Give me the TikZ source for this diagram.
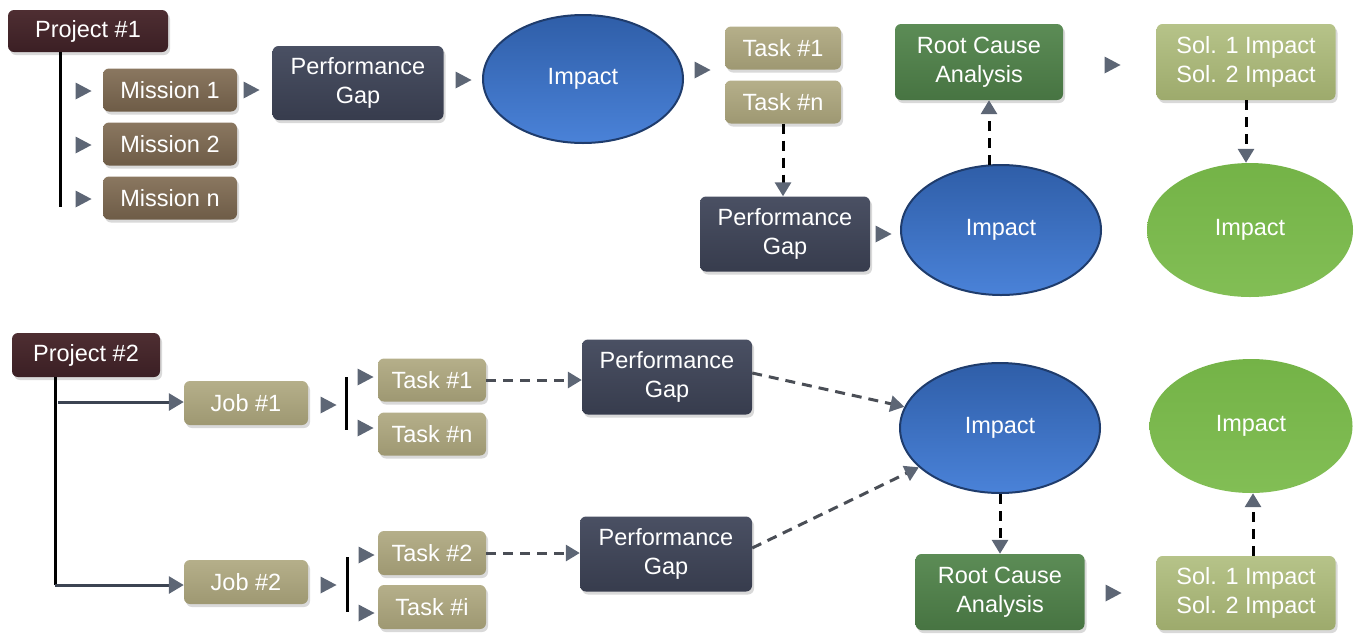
\documentclass[tikz,border=0pt]{standalone}
\usepackage{fontspec}
\setmainfont{Liberation Sans}
\usetikzlibrary{shapes.geometric,arrows.meta,shadows,calc}
\definecolor{projc}{HTML}{3B1F24}
\definecolor{projt}{HTML}{4E2E32}
\definecolor{missc}{HTML}{6E5C47}
\definecolor{misst}{HTML}{8A7760}
\definecolor{pgc}{HTML}{373C4D}
\definecolor{pgt}{HTML}{4A5063}
\definecolor{taskc}{HTML}{9E9872}
\definecolor{taskt}{HTML}{B5AF8A}
\definecolor{rcac}{HTML}{477442}
\definecolor{rcat}{HTML}{5C8C56}
\definecolor{solc}{HTML}{9DAA6C}
\definecolor{solt}{HTML}{B6C389}
\definecolor{bluet}{HTML}{2F5EA8}
\definecolor{blueb}{HTML}{4A82D8}
\definecolor{blued}{HTML}{1F3C6C}
\definecolor{greent}{HTML}{74B347}
\definecolor{greenb}{HTML}{82BE55}
\definecolor{tricol}{HTML}{5D6675}
\definecolor{slate}{HTML}{3C4452}
\definecolor{dgray}{HTML}{4A4E56}
\newcommand\trir[2]{\fill[tricol] ({#1-7.5},{#2-8.5}) -- ({#1+8.5},{#2}) -- ({#1-7.5},{#2+8.5}) -- cycle;}
\tikzset{
  lbl/.style={text=white, font=\fontsize{23.5}{29}\selectfont, align=center, inner sep=0pt},
  box/.style={lbl, rounded corners=6pt,
    drop shadow={opacity=0.3, shadow xshift=2pt, shadow yshift=-3pt}},
  projbox/.style={box, top color=projt, bottom color=projc},
  missbox/.style={box, top color=misst, bottom color=missc, minimum width=134pt, minimum height=43pt},
  pgbox/.style={box, top color=pgt, bottom color=pgc, minimum width=171pt, minimum height=74pt},
  taskbox/.style={box, top color=taskt, bottom color=taskc},
  rcabox/.style={box, top color=rcat, bottom color=rcac, minimum width=169pt, minimum height=76pt},
  solbox/.style={box, top color=solt, bottom color=solc, minimum width=179pt, minimum height=75pt},
  blueell/.style={lbl, ellipse, top color=bluet, bottom color=blueb, draw=blued, line width=2pt,
    minimum width=200pt, minimum height=130pt},
  greenell/.style={lbl, ellipse, top color=greent, bottom color=greenb,
    minimum width=205pt, minimum height=134pt},
  tline/.style={line width=3pt, black},
  bline/.style={line width=3pt, slate, -{Triangle[length=15pt,width=17pt,color=tricol]}},
  dconn/.style={line width=3pt, black, dash pattern=on 10pt off 7pt,
    -{Triangle[length=14pt,width=16pt,color=tricol]}},
  dgconn/.style={line width=3pt, dgray, dash pattern=on 10pt off 7pt,
    -{Triangle[length=14pt,width=16pt,color=tricol]}}
}
\begin{document}
\begin{tikzpicture}[x=1pt,y=-1pt]
\useasboundingbox (0,0) rectangle (1354,633);
% ---------- Project 1 ----------
\node[projbox, minimum width=160pt, minimum height=42pt] (p1) at (88,31) {Project \#1};
\node[missbox] (m1) at (170,90) {Mission 1};
\node[missbox] (m2) at (170,144) {Mission 2};
\node[missbox] (m3) at (170,198) {Mission n};
\coordinate (p1b) at (60,207);
\draw[tline] (p1.south -| p1b) -- (p1b);
\trir{83}{91}\trir{83}{145}\trir{83}{199}
\node[pgbox] (pg1) at (358,83) {Performance\\Gap};
\trir{251}{90}
\node[blueell, minimum height=128pt] (imp1) at (583,79) {Impact};
\trir{463}{80}
\node[taskbox, minimum width=116pt, minimum height=43pt] (t1) at (783,48) {Task \#1};
\node[taskbox, minimum width=116pt, minimum height=43pt] (tn) at (783,102) {Task \#n};
\trir{702}{70}
\node[pgbox, minimum width=170pt, minimum height=75pt] (pg2) at (785,234) {Performance\\Gap};
\draw[dconn] (tn.south) -- (pg2.north -| tn.south);
\node[blueell] (imp2) at (1001,230) {Impact};
\trir{883}{234}
\node[rcabox, minimum width=168pt] (rca1) at (979,62) {Root Cause\\Analysis};
\coordinate (r1x) at (989,0);
\draw[dconn] ($(imp2.north -| r1x)+(0,1)$) -- (rca1.south -| r1x);
\node[solbox, minimum height=76pt] (sol1) at (1246,62) {Sol. 1 Impact\\Sol. 2 Impact};
\trir{1112}{65}
\node[greenell, minimum width=206pt] (gimp1) at (1250,230) {Impact};
\draw[dconn] (sol1.south) -- (gimp1.north -| sol1.south);
% ---------- Project 2 ----------
\node[projbox, minimum width=148pt, minimum height=44pt] (p2) at (86,355) {Project \#2};
\node[taskbox, minimum width=124pt, minimum height=44pt] (j1) at (246,403) {Job \#1};
\node[taskbox, minimum width=124pt, minimum height=44pt] (j2) at (246,582) {Job \#2};
\coordinate (b0) at (55,585);
\coordinate (b1) at (58,402);
\draw[tline] (p2.south -| b0) -- (b0);
\draw[bline] (b0) -- (j2.west |- b0);
\draw[bline] (b1) -- (j1.west |- b1);
\node[taskbox, minimum width=108pt, minimum height=43pt] (ta1) at (432,380) {Task \#1};
\node[taskbox, minimum width=108pt, minimum height=43pt] (tan) at (432,434) {Task \#n};
\node[taskbox, minimum width=108pt, minimum height=44pt] (ta2) at (432,553) {Task \#2};
\node[taskbox, minimum width=108pt, minimum height=44pt] (tai) at (432,607) {Task \#i};
\trir{328}{405}\trir{328}{585}
\trir{365}{377}\trir{365}{428}\trir{366}{555}\trir{366}{613}
\coordinate (bar1) at (346,377); \coordinate (bar1b) at (346,430);
\coordinate (bar2) at (347,557); \coordinate (bar2b) at (347,612);
\draw[tline] (bar1) -- (bar1b);
\draw[tline] (bar2) -- (bar2b);
\node[pgbox, minimum width=170pt, minimum height=75pt] (pg3) at (667,377) {Performance\\Gap};
\node[pgbox, minimum width=172pt, minimum height=75pt] (pg4) at (666,554) {Performance\\Gap};
\draw[dgconn] (ta1.east) -- (pg3.west |- ta1.east);
\draw[dgconn] (ta2.east) -- (pg4.west |- ta2.east);
\node[blueell] (imp3) at (1000,428) {Impact};
\draw[dgconn] ($(pg3.east)+(0,-4)$) -- (imp3);
\draw[dgconn] ($(pg4.east)+(0,-6)$) -- (imp3);
\node[rcabox] (rca2) at (1000,592) {Root Cause\\Analysis};
\draw[dconn] (imp3.south) -- (rca2.north);
\node[solbox, minimum height=74pt] (sol2) at (1246,593) {Sol. 1 Impact\\Sol. 2 Impact};
\trir{1113}{593}
\node[greenell, minimum width=203pt] (gimp2) at (1251,426) {Impact};
\coordinate (s2x) at (1253,0);
\draw[dconn] (sol2.north -| s2x) -- (gimp2.south -| s2x);
\end{tikzpicture}
\end{document}
